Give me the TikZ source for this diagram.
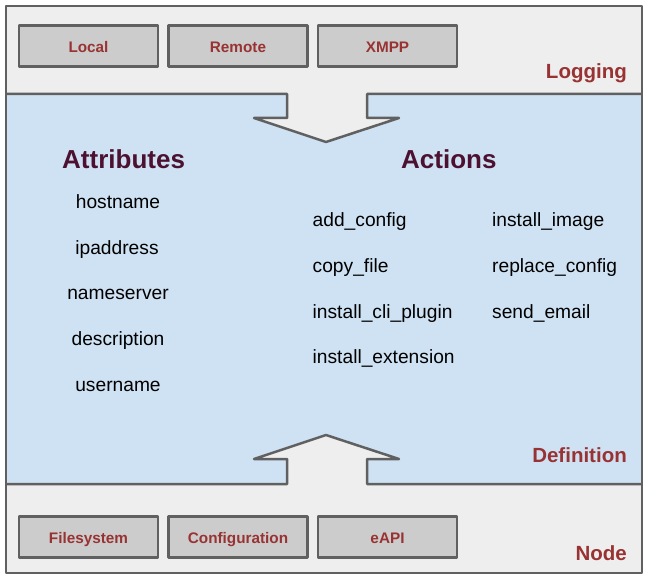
\documentclass[tikz,border=0pt]{standalone}
\usepackage{fontspec}
\setmainfont{Liberation Sans}
\definecolor{bordergray}{HTML}{606060}
\definecolor{panelgray}{HTML}{EEEEEE}
\definecolor{panelblue}{HTML}{CFE2F3}
\definecolor{btngray}{HTML}{CCCCCC}
\definecolor{labelred}{HTML}{993333}
\definecolor{headpurple}{HTML}{4C1130}
\begin{document}
\begin{tikzpicture}[x=1pt,y=-1pt,
  line join=round,
  btn/.style={draw=bordergray, fill=btngray, line width=2.5pt, minimum width=139pt, minimum height=41pt,
    inner sep=0pt, text=labelred, font=\fontsize{15.3}{15}\selectfont\bfseries, text height=13pt, text depth=0pt},
  layerlabel/.style={anchor=base east, inner sep=0pt, text=labelred, font=\fontsize{20.5}{20.5}\selectfont\bfseries},
  heading/.style={anchor=base west, inner sep=0pt, text=headpurple, font=\fontsize{26}{26}\selectfont\bfseries},
  attr/.style={anchor=base, inner sep=0pt, font=\fontsize{19.2}{19}\selectfont},
  act/.style={anchor=base west, inner sep=0pt, font=\fontsize{19.2}{19}\selectfont},
  outline/.style={draw=bordergray, line width=2.5pt}
]
\useasboundingbox (0,0) rectangle (651,580);
% panels
\fill[panelgray] (6,6) rectangle (642,573);
\fill[panelblue] (6,94) rectangle (642,484);
% arrows
\fill[panelgray] (287,92) -- (287,118) -- (254,118) -- (326,142) -- (399,118) -- (367,118) -- (367,92) -- cycle;
\fill[panelgray] (287,486) -- (287,459) -- (254,459) -- (326,435) -- (399,459) -- (367,459) -- (367,486) -- cycle;
\draw[outline] (6,94) -- (287,94) -- (287,118) -- (254,118) -- (326,142) -- (399,118) -- (367,118) -- (367,94) -- (642,94);
\draw[outline] (6,484) -- (287,484) -- (287,459) -- (254,459) -- (326,435) -- (399,459) -- (367,459) -- (367,484) -- (642,484);
\draw[outline] (6,6) rectangle (642,573);
% buttons
\node[btn] (local) at (88.5,46) {Local};
\node[btn] (remote) at (238,46) {Remote};
\node[btn] (xmpp) at (387.5,46) {XMPP};
\node[btn] (fs) at (88.5,537) {Filesystem};
\node[btn] (conf) at (238,537) {Configuration};
\node[btn] (eapi) at (387.5,537) {eAPI};
% layer labels
\node[layerlabel] (logging) at (627,79) {Logging};
\node[layerlabel] (definition) at (627,462.5) {Definition};
\node[layerlabel] (nodelbl) at (627,560) {Node};
% headings
\node[heading] (attrs) at (62,168.5) {Attributes};
\node[heading] (acts) at (401,168.5) {Actions};
% attributes
\node[attr] (a1) at (118,209) {hostname};
\node[attr] (a2) at (117,254.5) {ipaddress};
\node[attr] (a3) at (118,300) {nameserver};
\node[attr] (a4) at (118,345.5) {description};
\node[attr] (a5) at (118,391) {username};
% actions
\node[act] (c1) at (312.5,227) {add\_config};
\node[act] (c2) at (312.5,272.5) {copy\_file};
\node[act] (c3) at (312.5,318) {install\_cli\_plugin};
\node[act] (c4) at (312.5,363.5) {install\_extension};
\node[act] (c5) at (492,227) {install\_image};
\node[act] (c6) at (492,272.5) {replace\_config};
\node[act] (c7) at (492,318) {send\_email};
\end{tikzpicture}
\end{document}
